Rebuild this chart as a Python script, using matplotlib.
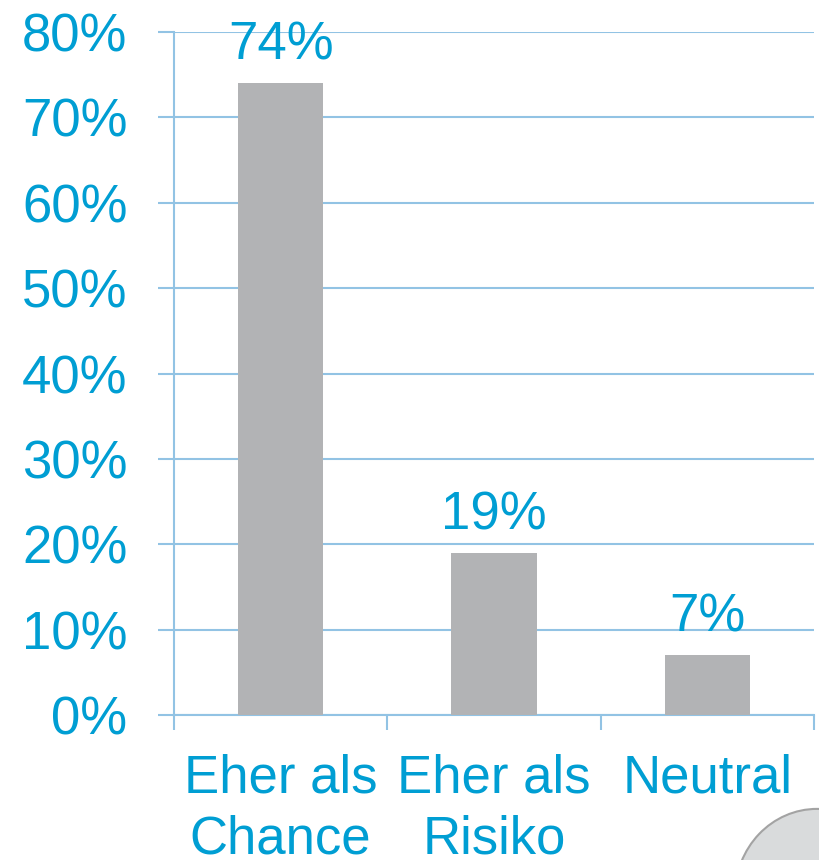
import matplotlib
matplotlib.use("Agg")
import matplotlib.pyplot as plt
from matplotlib.patches import Circle

categories = ["Eher als\nChance", "Eher als\nRisiko", "Neutral"]
values = [74, 19, 7]
value_labels = ["74%", "19%", "7%"]
yticks = [0, 10, 20, 30, 40, 50, 60, 70, 80]
ytick_labels = ["0%", "10%", "20%", "30%", "40%", "50%", "60%", "70%", "80%"]

blue = "#009ed3"
grid = "#92c3e4"
bar_color = "#b2b3b5"

plt.rcParams['font.family'] = ['Liberation Sans', 'DejaVu Sans']
FS = 38

fig = plt.figure(figsize=(8.19, 8.6), dpi=100)
ax = fig.add_axes([174/819, 145/860, 640/819, 683/860])

x = list(range(len(categories)))
ax.bar(x, values, width=0.4, color=bar_color, zorder=3)
for xi, v, lab in zip(x, values, value_labels):
    ax.annotate(lab, (xi, v), xytext=(0, 17), textcoords="offset points",
                ha="center", va="baseline", fontsize=FS, color=blue, zorder=4)

ax.set_xlim(-0.5, 2.5)
ax.set_ylim(0, 80)
ax.set_yticks(yticks)
ax.set_yticklabels(ytick_labels, fontsize=FS, color=blue)
ax.yaxis.grid(True, color=grid, linewidth=1.5, zorder=0)
ax.set_axisbelow(True)

ax.set_xticks([-0.5, 0.5, 1.5, 2.5], minor=False)
ax.set_xticklabels([])
ax.set_xticks(x, minor=True)
ax.set_xticklabels(categories, minor=True, fontsize=FS, color=blue, linespacing=1.28)
ax.tick_params(axis='x', which='major', length=11, width=1.5, color=grid, direction='out')
ax.tick_params(axis='x', which='minor', length=0, pad=27.5)
ax.tick_params(axis='y', length=11.5, width=1.5, color=grid, pad=22)

for s in ['top', 'right']:
    ax.spines[s].set_visible(False)
for s in ['left', 'bottom']:
    ax.spines[s].set_color(grid)
    ax.spines[s].set_linewidth(1.5)

circ = Circle((817/819, 1 - 895/860), 82/819, transform=fig.transFigure,
              facecolor="#d9dbdc", edgecolor="#a3a3a3", linewidth=1.5, zorder=10)
fig.patches.append(circ)

fig.savefig("out.png", dpi=100)
